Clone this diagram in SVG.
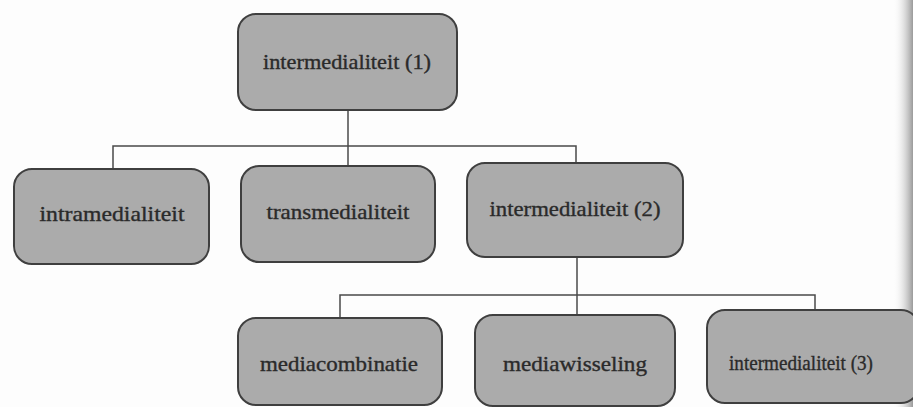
<svg xmlns="http://www.w3.org/2000/svg" width="913" height="407" viewBox="0 0 913 407">
  <defs>
    <linearGradient id="edge" x1="0" y1="0" x2="1" y2="0">
      <stop offset="0" stop-color="#ffffff" stop-opacity="0"/>
      <stop offset="1" stop-color="#9a9a9a"/>
    </linearGradient>
    <style>
      .box { fill: #ababab; stroke: #3f3f3f; stroke-width: 2; }
      .lbl { font-family: "Liberation Serif", "DejaVu Serif", serif; font-size: 21px; fill: #2a2a2a; stroke: #2a2a2a; stroke-width: 0.35; text-anchor: middle; }
      .con { fill: none; stroke: #4a4a4a; stroke-width: 1.5; }
    </style>
  </defs>
  <rect x="0" y="0" width="913" height="407" fill="#fdfdfd"/>
  <rect x="893" y="0" width="20" height="407" fill="url(#edge)"/>

  <g id="connectors">
    <path class="con" d="M348 110 V166"/>
    <path class="con" d="M113 169 V146 H576 V163"/>
    <path class="con" d="M577 257 V315"/>
    <path class="con" d="M340 318 V295 H815 V310"/>
  </g>

  <g id="n-intermedialiteit1">
    <rect class="box" x="238" y="14" width="219" height="96" rx="18"/>
    <text class="lbl" x="347" y="69" textLength="168" lengthAdjust="spacingAndGlyphs">intermedialiteit (1)</text>
  </g>
  <g id="n-intramedialiteit">
    <rect class="box" x="14" y="169" width="195" height="95" rx="18"/>
    <text class="lbl" x="112" y="221" textLength="145" lengthAdjust="spacingAndGlyphs">intramedialiteit</text>
  </g>
  <g id="n-transmedialiteit">
    <rect class="box" x="241" y="166" width="194" height="96" rx="18"/>
    <text class="lbl" x="338" y="219" textLength="143" lengthAdjust="spacingAndGlyphs">transmedialiteit</text>
  </g>
  <g id="n-intermedialiteit2">
    <rect class="box" x="467" y="163" width="216" height="94" rx="18"/>
    <text class="lbl" x="575" y="216" textLength="171" lengthAdjust="spacingAndGlyphs">intermedialiteit (2)</text>
  </g>
  <g id="n-mediacombinatie">
    <rect class="box" x="238" y="318" width="204" height="87" rx="18"/>
    <text class="lbl" x="339" y="371" textLength="158" lengthAdjust="spacingAndGlyphs">mediacombinatie</text>
  </g>
  <g id="n-mediawisseling">
    <rect class="box" x="475" y="315" width="200" height="91" rx="18"/>
    <text class="lbl" x="575" y="371" textLength="144" lengthAdjust="spacingAndGlyphs">mediawisseling</text>
  </g>
  <g id="n-intermedialiteit3">
    <rect class="box" x="707" y="310" width="212" height="93" rx="18"/>
    <text class="lbl" x="801" y="370" textLength="144" lengthAdjust="spacingAndGlyphs">intermedialiteit (3)</text>
  </g>
</svg>
